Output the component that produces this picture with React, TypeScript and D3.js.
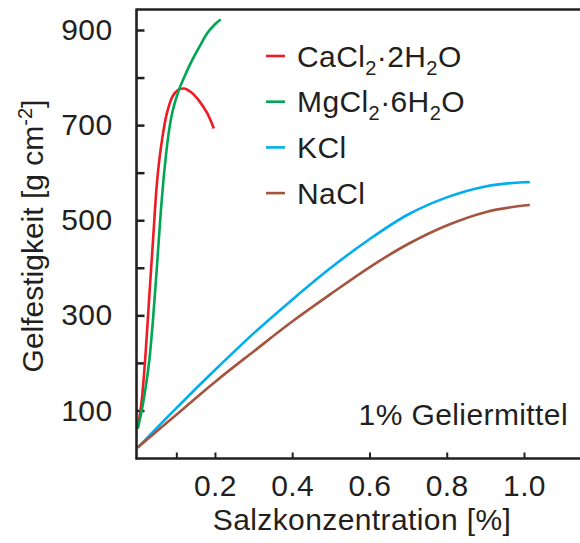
import * as d3 from "d3";
import { useEffect, useRef } from "react";

// Salzkonzentration [%] / Gelfestigkeit [g cm-2]
const caConc = [0, 0.01, 0.02, 0.03, 0.04, 0.05, 0.06, 0.075, 0.09, 0.105, 0.12, 0.14, 0.16, 0.18, 0.197];
const caVal = [62, 118, 215, 340, 462, 580, 652, 723, 760, 774, 777, 768, 750, 725, 693];

const mgConc = [0, 0.01, 0.02, 0.03, 0.04, 0.05, 0.06, 0.07, 0.08, 0.09, 0.105, 0.12, 0.14, 0.16, 0.18, 0.2, 0.215];
const mgVal = [62, 98, 145, 205, 295, 405, 520, 612, 682, 728, 770, 800, 835, 865, 893, 912, 922];

const kConc = [0, 0.1, 0.2, 0.3, 0.4, 0.5, 0.6, 0.7, 0.8, 0.9, 1.0, 1.015];
const kVal = [22, 105, 185, 262, 333, 400, 460, 512, 548, 571, 580, 580];

const naConc = [0, 0.1, 0.2, 0.3, 0.4, 0.5, 0.6, 0.7, 0.8, 0.9, 1.0, 1.015];
const naVal = [22, 91, 160, 224, 287, 345, 401, 450, 489, 517, 531, 532];

const yTicks = [100, 200, 300, 400, 500, 600, 700, 800, 900];
const xTicks = [0.1, 0.2, 0.4, 0.6, 0.8, 1.0];

const series = [
    { name: ["CaCl", "2", "·2H", "2", "O"], color: "#ed1c24", x: caConc, y: caVal },
    { name: ["MgCl", "2", "·6H", "2", "O"], color: "#00a651", x: mgConc, y: mgVal },
    { name: ["KCl"], color: "#00aeef", x: kConc, y: kVal },
    { name: ["NaCl"], color: "#a3553f", x: naConc, y: naVal },
];

const W = 580;
const H = 543;
const ink = "#231f20";
const font = "'Liberation Sans', Arial, sans-serif";
const fs = 30;
const ls = "0.4px";

const App = () => {
    const xAxisRef = useRef<SVGGElement>(null);
    const yAxisRef = useRef<SVGGElement>(null);

    const margin = { left: 136.5, top: 9.5, bottom: 458.5 };

    const scaleX = d3.scaleLinear().domain([0, 1.0]).range([137.7, 524]);
    const scaleY = d3.scaleLinear().domain([0, 900]).range([458, 30]);

    const line = d3.line<[number, number]>()
        .x(d => scaleX(d[0]))
        .y(d => scaleY(d[1]))
        .curve(d3.curveCatmullRom.alpha(0.5));

    useEffect(() => {
        const xAxis = d3.axisBottom(scaleX)
            .tickValues(xTicks)
            .tickSizeInner(-6)
            .tickSizeOuter(0)
            .tickPadding(16)
            .tickFormat(d => (d === 0.1 ? "" : d3.format(".1f")(d as number)));
        const gx = d3.select(xAxisRef.current).call(xAxis);
        gx.select(".domain").remove();
        gx.selectAll("line").attr("stroke", ink).attr("stroke-width", 2);
        gx.selectAll("text")
            .attr("fill", ink)
            .style("font-family", font)
            .style("font-size", fs + "px")
            .style("letter-spacing", ls);

        const yAxis = d3.axisLeft(scaleY)
            .tickValues(yTicks)
            .tickSizeInner(-8)
            .tickSizeOuter(0)
            .tickPadding(24)
            .tickFormat(d => ((d as number) % 200 === 100 ? String(d) : ""));
        const gy = d3.select(yAxisRef.current).call(yAxis);
        gy.select(".domain").remove();
        gy.selectAll("line").attr("stroke", ink).attr("stroke-width", 2.5);
        gy.selectAll("text")
            .attr("fill", ink)
            .style("font-family", font)
            .style("font-size", fs + "px")
            .style("letter-spacing", ls);
    }, []);

    return (
        <div style={{ position: "absolute", left: 0, top: 0 }}>
            <svg width={W} height={H} style={{ display: "block", background: "#fff" }}>
                <g ref={xAxisRef} transform={`translate(0, ${margin.bottom})`} />
                <g ref={yAxisRef} transform={`translate(${margin.left}, 0)`} />

                {series.map(s => (
                    <path
                        key={s.color}
                        d={line(s.x.map((v, i) => [v, s.y[i]] as [number, number])) || ""}
                        fill="none"
                        stroke={s.color}
                        strokeWidth={2.6}
                    />
                ))}

                {/* frame: left, top and bottom only */}
                <line x1={margin.left} x2={margin.left} y1={margin.top - 1} y2={margin.bottom + 1.2} stroke={ink} strokeWidth={2.6} />
                <line x1={margin.left} x2={W} y1={margin.top} y2={margin.top} stroke={ink} strokeWidth={2.4} />
                <line x1={margin.left} x2={W} y1={margin.bottom} y2={margin.bottom} stroke={ink} strokeWidth={2.6} />

                {/* legend */}
                <g fontFamily={font} fill={ink}>
                    {series.map((s, i) => {
                        const ly = 56 + i * 45.7;
                        return (
                            <g key={s.color}>
                                <line x1={266} x2={285} y1={ly} y2={ly} stroke={s.color} strokeWidth={2.6} />
                                <text x={297} y={ly + 10.5} fontSize={fs} letterSpacing={ls}>
                                    {s.name.map((part, j) =>
                                        j % 2 === 1 ? (
                                            <tspan key={j} fontSize={20} dy={8}>{part}</tspan>
                                        ) : (
                                            <tspan key={j} dy={j === 0 ? 0 : -8}>{part}</tspan>
                                        )
                                    )}
                                </text>
                            </g>
                        );
                    })}

                    <text x={568} y={425} fontSize={fs} letterSpacing={ls} textAnchor="end">1% Geliermittel</text>

                    <text x={362} y={530} fontSize={fs} letterSpacing={ls} textAnchor="middle">Salzkonzentration [%]</text>

                    <text transform="translate(43, 236) rotate(-90)" fontSize={fs} textAnchor="middle">
                        Gelfestigkeit [g cm
                        <tspan fontSize={20} dy={-11}>-2</tspan>
                        <tspan dy={11}>]</tspan>
                    </text>
                </g>
            </svg>
        </div>
    );
};

export default App;
